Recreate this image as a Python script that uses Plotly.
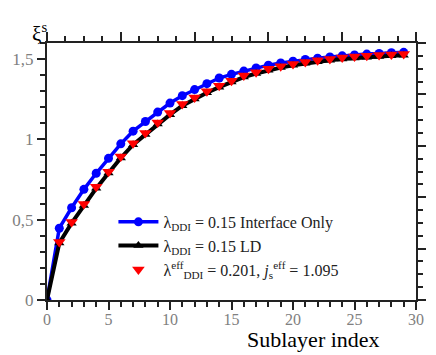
import plotly.graph_objects as go

# sublayer index
idx = list(range(0, 30))
idx_eff = list(range(1, 30))

# xi^s, lambda_DDI = 0.15, interface only
xi_interface = [0, 0.447, 0.574, 0.689, 0.789, 0.882, 0.972, 1.051, 1.111, 1.17,
                1.226, 1.272, 1.31, 1.347, 1.382, 1.405, 1.425, 1.445, 1.462, 1.476,
                1.487, 1.497, 1.505, 1.513, 1.52, 1.526, 1.531, 1.535, 1.539, 1.542]
# xi^s, lambda_DDI = 0.15, LD
xi_ld = [0, 0.355, 0.478, 0.588, 0.695, 0.79, 0.884, 0.967, 1.03, 1.095,
         1.154, 1.21, 1.251, 1.29, 1.325, 1.357, 1.388, 1.41, 1.43, 1.447,
         1.462, 1.474, 1.484, 1.493, 1.5, 1.506, 1.512, 1.516, 1.52, 1.523]
# effective model
xi_eff = [0.361, 0.486, 0.597, 0.705, 0.799, 0.893, 0.976, 1.039, 1.105,
          1.164, 1.22, 1.261, 1.299, 1.334, 1.365, 1.397, 1.418, 1.439, 1.455,
          1.47, 1.482, 1.492, 1.501, 1.509, 1.516, 1.521, 1.525, 1.529, 1.532]

y_tickvals = [0, 0.5, 1, 1.5]
y_ticktext = ['0', '0,5', '1', '1,5']

font_family = 'Liberation Serif'
axis_color = '#222222'
label_color = '#808080'

fig = go.Figure()

fig.add_trace(go.Scatter(
    x=idx, y=xi_interface, mode='lines+markers',
    name='λ<sub>DDI</sub> = 0.15 Interface Only',
    line=dict(color='#0000ff', width=3.5),
    marker=dict(symbol='circle', size=9, color='#0000ff')
))
fig.add_trace(go.Scatter(
    x=idx, y=xi_ld, mode='lines+markers',
    name='λ<sub>DDI</sub> = 0.15 LD',
    line=dict(color='black', width=4),
    marker=dict(symbol='triangle-up', size=9, color='black')
))
fig.add_trace(go.Scatter(
    x=idx_eff, y=xi_eff, mode='markers',
    name='λ<sup>eff</sup><sub>DDI</sub> = 0.201, <i>j</i><sub>s</sub><sup>eff</sup> = 1.095',
    marker=dict(symbol='triangle-down', size=11, color='#ff0000')
))
# dummy trace to bring up the top / right tick axes
fig.add_trace(go.Scatter(
    x=[0], y=[0], xaxis='x2', yaxis='y2', mode='markers',
    marker=dict(opacity=0), showlegend=False, hoverinfo='skip'
))

common = dict(
    showline=True, linewidth=2, linecolor=axis_color,
    ticks='outside', tickcolor=axis_color, tickwidth=1.5,
    showgrid=False, zeroline=False,
)

fig.update_layout(
    width=436, height=355,
    margin=dict(l=43, r=16, t=43, b=55),
    paper_bgcolor='white', plot_bgcolor='white',
    font=dict(family=font_family, size=15, color=label_color),
    xaxis=dict(
        range=[0, 30], dtick=5, tick0=0, ticklen=8, ticklabelstandoff=-4,
        minor=dict(dtick=1, ticklen=5, ticks='outside', tickcolor=axis_color),
        tickfont=dict(color=label_color, size=16),
        **common
    ),
    xaxis2=dict(
        range=[0, 30], overlaying='x', side='top', anchor='y',
        dtick=6, tick0=0, ticklen=9, showticklabels=False,
        minor=dict(dtick=1.5, ticklen=5, ticks='outside', tickcolor=axis_color),
        **common
    ),
    yaxis=dict(
        range=[0, 1.6], tickvals=y_tickvals, ticktext=y_ticktext, ticklen=8,
        minor=dict(dtick=0.1, tick0=0, ticklen=5, ticks='outside', tickcolor=axis_color),
        tickfont=dict(color=label_color, size=17),
        **common
    ),
    yaxis2=dict(
        range=[0, 1.6], overlaying='y', side='right', anchor='x',
        dtick=0.32, tick0=0, ticklen=8, showticklabels=False,
        minor=dict(dtick=0.08, tick0=0, ticklen=5, ticks='outside', tickcolor=axis_color),
        **common
    ),
    showlegend=True,
    legend=dict(
        x=0.18, y=0.37, xanchor='left', yanchor='top',
        bgcolor='rgba(0,0,0,0)', tracegroupgap=0, itemwidth=40,
        font=dict(family=font_family, size=16, color='#222222'),
    ),
    annotations=[
        dict(text='Sublayer index', xref='paper', yref='paper',
             x=0.721, y=-0.212, xanchor='center', yanchor='bottom',
             showarrow=False, font=dict(family=font_family, size=22, color='black')),
        dict(text='ξ<sup>s</sup>', xref='paper', yref='paper',
             x=-0.045, y=1.04, xanchor='left', yanchor='middle',
             showarrow=False, font=dict(family=font_family, size=21, color='black')),
    ],
)

fig.write_html(
    'out.html',
    config={'displayModeBar': False},
    post_script="document.body.style.margin='0';document.body.style.overflow='hidden';",
)
